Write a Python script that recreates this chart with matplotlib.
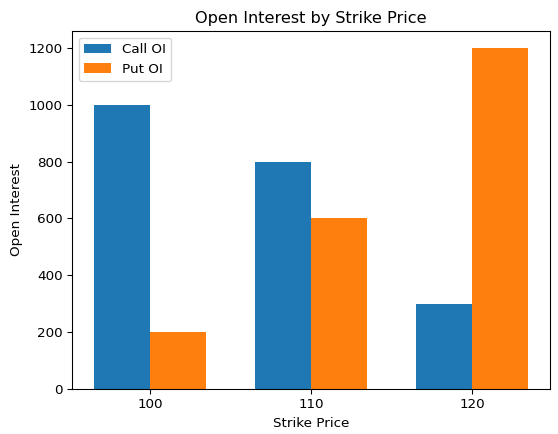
import matplotlib
matplotlib.use("Agg")
import matplotlib.pyplot as plt
import numpy as np

strikes = ["100", "110", "120"]
call_oi = [1000, 800, 300]
put_oi = [200, 600, 1200]

x = np.arange(len(strikes))
width = 0.35

# ~97 dpi so default font sizes match the reference scale
fig, ax = plt.subplots(figsize=(558 / 97, 434 / 97), dpi=97)
ax.bar(x - width / 2, call_oi, width, label="Call OI")
ax.bar(x + width / 2, put_oi, width, label="Put OI")
ax.set_xlabel("Strike Price")
ax.set_ylabel("Open Interest")
ax.set_title("Open Interest by Strike Price")
ax.set_xticks(x)
ax.set_xticklabels(strikes)
ax.legend()
fig.subplots_adjust(left=0.129, right=0.986, top=0.929, bottom=0.104)
fig.savefig("out.png")
